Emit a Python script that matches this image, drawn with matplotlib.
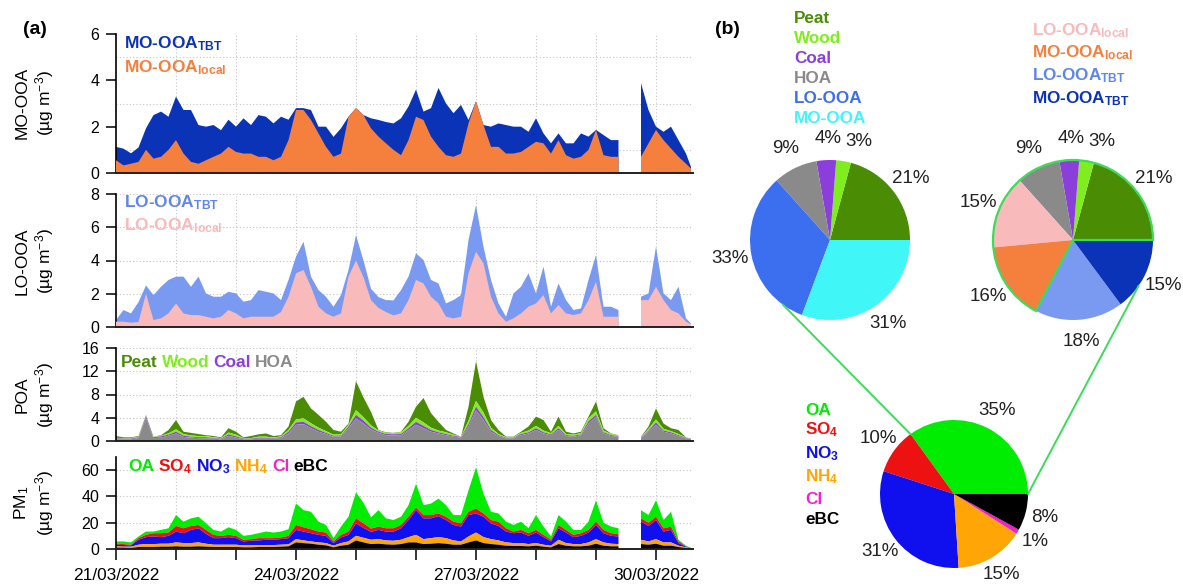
import numpy as np
import matplotlib
matplotlib.use('Agg')
import matplotlib.pyplot as plt
from matplotlib.patches import Wedge

W, H = 1183, 586
plt.rcParams['font.family'] = ['Liberation Sans', 'DejaVu Sans']
plt.rcParams['mathtext.fontset'] = 'custom'
plt.rcParams['mathtext.rm'] = 'Liberation Sans'
plt.rcParams['mathtext.bf'] = 'Liberation Sans:bold'
plt.rcParams['mathtext.it'] = 'Liberation Sans:italic'

# ---------------- data ----------------
hours = list(range(0, 229, 3)) + [230]          # hours since 21/03/2022 00:00
N = None
mo_total = [1.13,1.05,0.85,1.1,1.93,2.5,2.65,2.43,3.3,2.72,
            2.72,2.07,2.0,2.07,1.85,2.3,2.0,2.36,2.07,2.5,
            2.43,2.14,2.43,2.3,2.8,2.8,2.72,2.0,2.0,1.56,
            1.93,2.43,2.8,2.5,2.36,2.29,2.2,2.14,2.36,2.87,
            3.6,2.65,2.8,3.67,3.0,2.58,2.94,2.29,3.09,2.07,
            2.0,2.14,2.07,2.0,2.0,1.78,2.36,1.71,1.28,1.71,
            1.28,1.28,1.71,1.57,1.86,1.64,1.42,1.42,N,N,
            3.88,2.72,2.0,1.78,2.0,1.42,0.84,0.26]
mo_local = [0.55,0.33,0.4,0.48,1.0,0.62,0.7,1.0,1.42,0.84,
            0.48,0.4,0.55,0.7,0.84,1.13,0.91,0.84,0.84,0.7,
            0.7,0.55,0.7,1.42,2.72,2.72,2.29,1.71,1.13,0.7,
            0.84,2.43,2.8,2.5,1.93,1.57,1.28,1.0,0.77,1.42,
            2.43,2.29,1.57,1.13,0.77,0.7,0.84,2.14,3.09,2.07,
            1.13,1.13,0.84,0.84,0.91,1.13,1.35,1.28,0.84,1.42,
            0.77,0.62,0.7,1.0,1.86,0.77,0.7,0.7,N,N,
            0.7,1.28,1.86,1.42,1.06,0.7,0.4,0.19]
lo_total = [0.42,1.02,0.82,1.5,2.5,1.92,2.42,2.83,3.03,3.03,
            2.42,3.03,2.02,1.82,1.82,2.12,2.02,1.52,1.62,2.22,
            2.12,2.02,1.62,2.83,4.23,5.13,3.03,2.22,1.82,1.22,
            1.92,3.43,5.53,4.0,2.3,1.8,1.62,1.6,2.22,3.03,
            4.43,4.03,2.83,2.62,1.42,1.62,1.92,5.23,7.33,4.83,
            2.83,1.42,0.62,2.02,2.42,3.23,2.02,3.63,1.22,2.62,
            1.62,1.02,1.12,2.83,4.33,1.22,1.22,1.02,N,N,
            1.82,2.02,4.83,2.02,1.62,2.42,0.52,0.22]
lo_local = [0.32,0.32,0.26,0.3,2.0,0.42,0.52,0.82,1.42,0.82,
            0.72,0.72,0.62,0.52,0.62,1.02,0.82,0.52,0.62,0.62,
            0.62,0.62,0.9,1.82,3.23,3.43,2.42,1.22,0.82,0.62,
            0.82,3.03,4.0,3.0,1.62,1.15,0.9,0.7,0.82,1.62,
            2.83,2.62,1.82,1.42,0.62,0.52,0.62,3.23,4.53,3.83,
            1.82,0.82,0.32,0.52,0.82,1.22,1.42,1.92,0.82,1.32,
            0.82,0.72,0.82,1.62,2.72,0.62,0.62,0.62,N,N,
            1.62,1.62,2.42,1.62,1.02,0.82,0.32,0.18]
poa_total = [0.86,0.63,0.63,0.86,4.5,0.75,1.0,1.9,3.6,1.6,
             1.4,1.2,1.0,0.86,0.63,2.2,1.6,0.63,0.86,1.15,
             1.3,0.86,1.0,2.5,6.8,7.6,5.6,4.5,3.3,1.9,
             1.6,3.0,10.3,7.5,5.0,1.9,1.5,1.4,1.6,3.3,
             5.9,7.4,4.8,3.3,1.9,1.3,0.75,5.9,13.7,7.6,
             3.6,1.9,0.75,0.75,1.6,2.5,4.2,3.6,1.6,4.2,
             1.6,1.3,1.6,4.2,6.8,2.2,1.3,1.0,N,N,
             0.75,2.5,5.6,3.0,2.2,1.9,0.63,0.4]
hoa = [0.3,0.3,0.3,0.5,4.0,0.5,0.6,0.9,1.3,0.7,
       0.6,0.5,0.5,0.4,0.3,0.9,0.6,0.3,0.3,0.4,
       0.4,0.4,0.5,1.3,2.8,2.9,2.2,1.6,1.2,0.75,
       0.8,2.2,3.9,3.0,2.0,1.4,1.0,1.0,1.0,1.9,
       2.8,2.2,1.6,1.3,1.0,0.75,0.6,2.5,5.3,3.6,
       1.6,0.86,0.46,0.46,1.0,1.3,1.9,1.3,1.0,1.9,
       0.86,0.75,1.0,3.0,4.2,1.3,0.86,0.75,N,N,
       0.46,1.6,2.8,1.6,1.3,0.86,0.46,0.3]
coal = [0.15,0.1,0.1,0.15,0.3,0.15,0.2,0.2,0.3,0.2,
        0.15,0.15,0.15,0.1,0.1,0.25,0.2,0.1,0.1,0.15,
        0.15,0.1,0.15,0.3,0.4,0.4,0.35,0.3,0.2,0.15,
        0.15,0.3,0.6,0.5,0.3,0.2,0.2,0.15,0.2,0.3,
        0.5,0.4,0.3,0.2,0.2,0.15,0.1,0.4,0.6,0.5,
        0.3,0.15,0.1,0.1,0.2,0.2,0.3,0.2,0.15,0.3,
        0.15,0.15,0.15,0.4,0.3,0.2,0.15,0.1,N,N,
        0.1,0.2,0.4,0.2,0.2,0.15,0.1,0.05]
wood = [0.1,0.1,0.1,0.1,0.1,0.1,0.1,0.2,0.4,0.3,
        0.2,0.2,0.2,0.15,0.1,0.3,0.3,0.1,0.1,0.2,
        0.2,0.1,0.15,0.3,0.5,0.6,0.5,0.4,0.3,0.2,
        0.2,0.3,0.8,0.6,0.4,0.2,0.2,0.2,0.3,0.4,
        0.7,0.6,0.4,0.3,0.3,0.2,0.05,0.6,1.0,0.8,
        0.4,0.2,0.1,0.1,0.2,0.3,0.4,0.3,0.2,0.4,
        0.2,0.2,0.2,0.5,0.6,0.3,0.2,0.1,N,N,
        0.1,0.3,0.5,0.3,0.2,0.2,0.05,0.02]
# PM1 stacked tops (cumulative)
pm_ebc = [1.0,1.0,0.75,1.5,1.5,1.5,1.75,1.75,2.0,1.75,
          1.75,2.0,1.75,1.5,1.5,1.5,1.5,1.25,1.25,1.5,
          1.5,1.5,1.75,2.0,5.0,4.5,4.0,3.25,2.75,1.25,
          2.5,3.25,6.5,5.0,3.75,4.0,3.5,3.25,3.75,5.0,
          5.0,3.75,4.0,4.5,4.0,3.25,3.25,5.0,6.5,4.5,
          3.75,3.25,2.5,2.25,2.25,2.0,2.5,1.75,1.25,3.75,
          2.5,2.0,2.0,2.5,4.0,2.5,2.0,2.0,N,N,
          3.75,3.25,4.0,2.5,2.5,1.5,0.75,0.4]
pm_nh4_top = [2.0,1.75,1.75,3.25,3.75,3.75,4.0,4.0,5.0,4.5,
              4.5,5.0,4.0,3.25,3.25,3.25,3.25,2.75,2.75,3.0,
              3.0,3.0,3.25,3.5,7.5,6.5,5.75,5.0,4.5,2.5,
              4.5,5.75,10.0,8.5,7.0,7.5,6.5,6.25,7.0,9.0,
              10.75,7.5,8.25,9.0,8.25,6.5,5.75,9.5,12.5,9.0,
              7.5,6.5,5.0,4.5,4.5,3.75,4.5,3.25,2.5,7.0,
              4.5,3.75,3.75,5.0,7.5,5.0,4.0,3.75,N,N,
              7.0,5.75,7.5,5.0,5.0,2.5,1.25,0.6]
pm_no3_top = [3.25,3.0,2.75,7.0,9.0,9.5,9.0,10.0,13.25,12.0,
              14.5,15.75,11.5,8.25,8.25,9.0,8.25,5.75,6.25,6.5,
              7.0,7.0,7.5,8.25,14.5,13.25,12.0,10.75,10.0,4.5,
              8.75,10.75,19.5,16.0,13.0,14.5,13.25,13.25,15.75,22.0,
              29.5,23.25,23.25,25.0,22.0,18.25,17.0,25.75,27.0,24.5,
              19.5,17.5,13.25,12.0,12.5,10.0,12.5,9.0,5.75,15.75,
              12.5,9.0,10.0,12.5,18.25,12.0,10.0,9.5,N,N,
              20.75,17.5,22.0,13.25,14.5,4.5,1.75,0.7]
pm_so4_top = [4.0,3.75,3.25,8.25,10.75,12.0,12.0,12.5,17.5,15.75,
              17.5,18.25,14.5,10.75,10.0,10.75,10.0,7.0,7.5,8.25,
              8.25,8.25,8.75,10.0,18.25,16.5,15.0,13.25,12.5,5.75,
              10.75,13.25,23.25,19.5,15.5,17.0,15.75,15.75,18.25,24.5,
              31.5,25.75,25.75,27.0,24.5,20.75,19.5,28.25,30.75,27.0,
              22.0,20.75,15.75,13.25,14.5,12.0,14.5,10.75,7.0,18.25,
              14.5,10.75,12.0,14.5,20.75,14.5,12.0,11.5,N,N,
              23.25,20.0,24.5,15.75,17.0,5.75,2.0,0.8]
pm_oa_top = [5.75,5.75,5.0,9.5,13.25,13.25,14.5,15.75,25.75,20.75,
             23.25,24.5,19.5,14.5,13.25,16.5,14.5,10.0,10.75,12.0,
             13.25,12.5,13.25,15.0,34.5,29.5,28.25,20.75,18.25,8.25,
             17.0,24.5,43.0,35.0,24.0,29.5,23.25,22.0,24.5,33.25,
             49.5,33.25,34.5,38.25,33.25,25.75,25.75,44.5,62.0,42.0,
             28.25,27.0,20.75,18.25,20.75,15.75,25.75,17.0,9.5,25.75,
             20.75,14.5,14.5,20.75,37.0,20.0,17.0,15.75,N,N,
             29.5,25.75,37.0,22.0,28.25,7.0,2.5,0.9]

date_ticks_h = [0, 72, 144, 216]
date_labels = ['21/03/2022', '24/03/2022', '27/03/2022', '30/03/2022']

pie1_labels = ['Peat', 'Wood', 'Coal', 'HOA', 'LO-OOA', 'MO-OOA']
pie1_values = [21, 3, 4, 9, 33, 31]
pie2_labels = ['Peat', 'Wood', 'Coal', 'HOA', 'LO-OOA_local', 'MO-OOA_local', 'LO-OOA_TBT', 'MO-OOA_TBT']
pie2_values = [21, 3, 4, 9, 15, 16, 18, 15]
pie3_labels = ['OA', 'SO4', 'NO3', 'NH4', 'Cl', 'eBC']
pie3_values = [35, 10, 31, 15, 1, 8]

# ---------------- colours ----------------
C_MO_TBT = '#0b33b8'; C_MO_LOC = '#f57f3c'
C_LO_TBT = '#7a9af2'; C_LO_LOC = '#f8baba'
C_PEAT = '#4b8c05'; C_WOOD = '#80ee1e'; C_COAL = '#8c3edb'; C_HOA = '#8a8a8a'
C_LO = '#3c6ef0'; C_MO = '#40f6f6'
C_OA = '#00ec00'; C_SO4 = '#ee1111'; C_NO3 = '#1010ee'; C_NH4 = '#ffa505'
C_CL = '#f020cc'; C_EBC = '#000000'
C_LINK = '#3cdc5a'

def arr(v):
    return np.array([np.nan if x is None else x for x in v], dtype=float)

t = np.array(hours, dtype=float)

fig = plt.figure(figsize=(W / 100, H / 100), dpi=100)

def px_axes(left, top, right, bottom):
    return fig.add_axes([left / W, 1 - bottom / H, (right - left) / W, (bottom - top) / H])

GRID = dict(color='#c4c4c4', lw=0.8, ls=(0, (1, 2)), zorder=0)

def style(ax, ymax, yticks, ygrid, bottom_labels=False):
    ax.set_xlim(0, 231)
    ax.set_ylim(0, ymax)
    ax.set_yticks(yticks)
    ax.spines['top'].set_visible(False)
    ax.spines['right'].set_visible(False)
    ax.spines['left'].set_linewidth(1.2)
    ax.spines['bottom'].set_linewidth(1.4)
    ax.spines['bottom'].set_color('#202020')
    ax.spines['bottom'].set_zorder(5)
    ax.tick_params(axis='y', direction='out', length=7, width=1.1, labelsize=11.5, pad=5)
    for yg in ygrid:
        ax.axhline(yg, **GRID)
    for d in range(1, 10):
        ax.axvline(d * 24, **GRID)
    ax.patch.set_alpha(0)
    if bottom_labels:
        ticks = list(range(0, 231, 24))
        ax.set_xticks(ticks)
        ax.set_xticklabels([date_labels[date_ticks_h.index(h)] if h in date_ticks_h else '' for h in ticks])
        ax.tick_params(axis='x', direction='out', length=8, width=1.1, labelsize=12.4, pad=6)
    else:
        ax.set_xticks([])

L, R = 116, 693.5
ax1 = px_axes(L, 34, R, 173)
ax2 = px_axes(L, 194, R, 327)
ax3 = px_axes(L, 348, R, 441)
ax4 = px_axes(L, 456.8, R, 549)

# Panel 1 MO-OOA
mt, ml = arr(mo_total), arr(mo_local)
ax1.fill_between(t, 0, mt, color=C_MO_TBT, lw=0, zorder=2)
ax1.fill_between(t, 0, ml, color=C_MO_LOC, lw=0, zorder=3)
style(ax1, 6, [0, 2, 4, 6], [1, 3, 5])

# Panel 2 LO-OOA
lt, ll = arr(lo_total), arr(lo_local)
ax2.fill_between(t, 0, lt, color=C_LO_TBT, lw=0, zorder=2)
ax2.fill_between(t, 0, ll, color=C_LO_LOC, lw=0, zorder=3)
style(ax2, 8, [0, 2, 4, 6, 8], [2, 4, 6, 8])

# Panel 3 POA
h_, c_, w_, tot = arr(hoa), arr(coal), arr(wood), arr(poa_total)
lev1 = h_
lev2 = lev1 + c_
lev3 = lev2 + w_
lev4 = np.maximum(tot, lev3)
ax3.fill_between(t, lev3, lev4, color=C_PEAT, lw=0, zorder=2)
ax3.fill_between(t, lev2, lev3, color=C_WOOD, lw=0, zorder=2)
ax3.fill_between(t, lev1, lev2, color=C_COAL, lw=0, zorder=2)
ax3.fill_between(t, 0, lev1, color=C_HOA, lw=0, zorder=2)
style(ax3, 16, [0, 4, 8, 12, 16], [4, 8, 12, 16])

# Panel 4 PM1
e, n4, n3, s4, oa = arr(pm_ebc), arr(pm_nh4_top), arr(pm_no3_top), arr(pm_so4_top), arr(pm_oa_top)
ax4.fill_between(t, s4, oa, color=C_OA, lw=0, zorder=2)
ax4.fill_between(t, n3, s4, color=C_SO4, lw=0, zorder=2)
ax4.fill_between(t, n4, n3, color=C_NO3, lw=0, zorder=2)
ax4.fill_between(t, e, n4, color=C_NH4, lw=0, zorder=2)
ax4.fill_between(t, 0, e, color=C_EBC, lw=0, zorder=2)
style(ax4, 70, [0, 20, 40, 60], [20, 40, 60], bottom_labels=True)

# y labels (two rotated lines)
def ylab(line1, yc):
    fig.text(22 / W, 1 - yc / H, line1, rotation=90, ha='center', va='center', fontsize=12.5)
    fig.text(45 / W, 1 - yc / H, r'(µg m$^{-3}$)', rotation=90, ha='center', va='center', fontsize=12.5)

ylab('MO-OOA', 103)
ylab('LO-OOA', 261)
ylab('POA', 395)
ylab(r'PM$_1$', 503)

renderer = fig.canvas.get_renderer()

def line_of(x_px, base_px, pieces, size=12.5, gap=4):
    x = x_px
    for s, c in pieces:
        tx = fig.text(x / W, 1 - base_px / H, s, color=c, fontsize=size, fontweight='bold',
                      ha='left', va='baseline')
        bb = tx.get_window_extent(renderer)
        x += bb.width + gap

line_of(124, 48, [(r'MO-OOA$_\mathbf{TBT}$', C_MO_TBT)])
line_of(124, 72, [(r'MO-OOA$_\mathbf{local}$', C_MO_LOC)])
line_of(124, 207, [(r'LO-OOA$_\mathbf{TBT}$', '#5f86ee')])
line_of(124, 230, [(r'LO-OOA$_\mathbf{local}$', C_LO_LOC)])
line_of(121, 367, [('Peat', C_PEAT), ('Wood', C_WOOD), ('Coal', C_COAL), ('HOA', C_HOA)])
line_of(128, 471, [('OA', C_OA), (r'SO$_\mathbf{4}$', C_SO4), (r'NO$_\mathbf{3}$', C_NO3),
                   (r'NH$_\mathbf{4}$', C_NH4), ('Cl', C_CL), ('eBC', C_EBC)])

fig.text(35 / W, 1 - 30 / H, '(a)', fontsize=14, fontweight='bold', ha='center', va='center')
fig.text(727 / W, 1 - 29 / H, '(b)', fontsize=14, fontweight='bold', ha='center', va='center')

# ---------------- pies ----------------
axp = fig.add_axes([0, 0, 1, 1])
axp.patch.set_alpha(0)

def draw_pie(values, colors, cx, cy, r, nudges=None):
    pct = ['%d%%' % v for v in values]
    wedges, texts = axp.pie(values, colors=colors, labels=pct, startangle=0, counterclock=True,
                            center=(cx, H - cy), radius=r, labeldistance=1.27, frame=True,
                            wedgeprops=dict(linewidth=0), textprops=dict(fontsize=13.5, color='#222222'))
    for i, tx in enumerate(texts):
        tx.set_ha('center')
        tx.set_va('center')
        if nudges and i in nudges:
            x0, y0 = tx.get_position()
            tx.set_position((x0 + nudges[i][0], y0 + nudges[i][1]))
    return wedges

P1 = (830, 240, 80)
P2 = (1073, 240, 80)
P3 = (954, 494, 74)
small_nudge = {1: (12, -2), 2: (3, 0)}
draw_pie(pie1_values, [C_PEAT, C_WOOD, C_COAL, C_HOA, C_LO, C_MO], *P1, nudges=small_nudge)
draw_pie(pie2_values, [C_PEAT, C_WOOD, C_COAL, C_HOA, C_LO_LOC, C_MO_LOC, C_LO_TBT, C_MO_TBT], *P2,
         nudges=small_nudge)
draw_pie(pie3_values, [C_OA, C_SO4, C_NO3, C_NH4, C_CL, C_EBC], *P3)

# outline of the OA part in pie 2
oa_frac_deg = 360.0 * sum(pie2_values[:6]) / sum(pie2_values)
axp.add_patch(Wedge((P2[0], H - P2[1]), P2[2], 0, oa_frac_deg, fill=False,
                    edgecolor=C_LINK, lw=1.6, zorder=5))

def pt(p, ang):
    a = np.deg2rad(ang)
    return p[0] + p[2] * np.cos(a), H - p[1] + p[2] * np.sin(a)

oa_end = 360.0 * pie3_values[0] / sum(pie3_values)
a1 = pt(P3, oa_end); b1 = pt(P1, 234)
a2 = pt(P3, 0); b2 = pt(P2, -35)
axp.plot([a1[0], b1[0]], [a1[1], b1[1]], color=C_LINK, lw=1.4, zorder=4)
axp.plot([a2[0], b2[0]], [a2[1], b2[1]], color=C_LINK, lw=1.4, zorder=4)

axp.set_xlim(0, W)
axp.set_ylim(0, H)
axp.set_aspect('auto')
axp.axis('off')

# pie legends
def stack(x_px, bases, items, size=12.3):
    for b, (s, c) in zip(bases, items):
        fig.text(x_px / W, 1 - b / H, s, color=c, fontsize=size, fontweight='bold', ha='left', va='baseline')

stack(794, [23, 43, 63, 83, 103, 123],
      list(zip(pie1_labels, [C_PEAT, C_WOOD, C_COAL, C_HOA, C_LO, C_MO])))
stack(1032, [35, 57, 80, 103],
      [(r'LO-OOA$_\mathbf{local}$', C_LO_LOC), (r'MO-OOA$_\mathbf{local}$', C_MO_LOC),
       (r'LO-OOA$_\mathbf{TBT}$', '#5f86ee'), (r'MO-OOA$_\mathbf{TBT}$', C_MO_TBT)])
stack(805, [415, 434, 458, 481, 504, 524],
      [('OA', C_OA), (r'SO$_\mathbf{4}$', C_SO4), (r'NO$_\mathbf{3}$', C_NO3),
       (r'NH$_\mathbf{4}$', C_NH4), ('Cl', C_CL), ('eBC', C_EBC)])

fig.savefig('out.png', dpi=100)
